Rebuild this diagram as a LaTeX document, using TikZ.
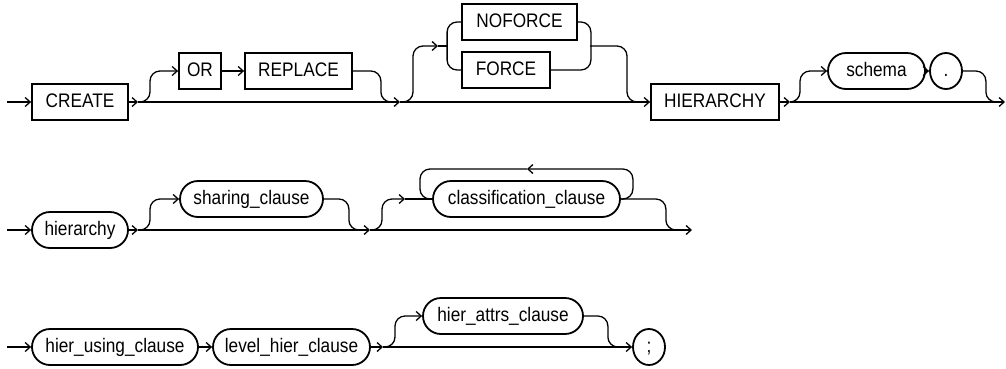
\documentclass[tikz,border=0pt]{standalone}
\usepackage{fontspec}
\setmainfont{Liberation Sans}[FakeStretch=0.88]
\usetikzlibrary{arrows.meta,shapes.misc,shapes.geometric}
\begin{document}
\begin{tikzpicture}[x=1pt,y=-1pt,
  rail/.style={line width=1.3pt},
  arr/.style={-{Straight Barb[length=5pt,width=9pt]}},
  rc/.style={rounded corners=10pt},
  lbl/.style={draw, line width=1.8pt, font=\fontsize{19.6}{22}\selectfont,
    text height=14pt, text depth=3pt, inner sep=0pt, minimum height=36pt},
  kw/.style={lbl, rectangle},
  nt/.style={lbl, rounded rectangle},
  tm/.style={lbl, ellipse, minimum width=32pt}]
\useasboundingbox[fill=white] (0,0) rectangle (1006,368);

% ---------------- row 1 ----------------
\node[kw, minimum width=96pt]  (create)  at (80,102)    {CREATE};
\node[kw, minimum width=42pt]  (or)      at (200,71)    {OR};
\node[kw, minimum width=107pt] (replace) at (298.5,71)  {REPLACE};
\node[kw, minimum width=115pt] (noforce) at (519.5,22)  {NOFORCE};
\node[kw, minimum width=88pt]  (force)   at (506,70)    {FORCE};
\node[kw, minimum width=128pt] (hier)    at (715,102)   {HIERARCHY};
\node[nt, minimum width=97pt]  (schema)  at (876.5,71)  {schema};
\node[tm]                      (dot)     at (946,71)    {.};

\coordinate (s1) at (7,102);
\coordinate (a1) at (138,102);
\coordinate (m1) at (390,102);
\coordinate (a2) at (400,102);
\coordinate (c2) at (438,46);
\coordinate (lb) at (448,46);
\coordinate (rb) at (590,46);
\coordinate (m3) at (637,102);
\coordinate (a3) at (790,102);
\coordinate (m4) at (995,102);
\coordinate (e1) at (1005,102);

\draw[rail,arr] (s1) -- (create.west);
\draw[rail,arr] (create.east) -- (a1);
\draw[rail,arr] (a1) -- (a2);
\draw[rail,arr] (a2) -- (hier.west);
\draw[rail,arr] (hier.east) -- (a3);
\draw[rail,arr] (a3) -- (e1);
% OR REPLACE
\draw[rail,arr,rc] (a1) -- ++(12,0) |- (or.west);
\draw[rail,arr] (or.east) -- (replace.west);
\draw[rail,rc] (replace.east) -- ++(28,0) |- (m1);
% NOFORCE / FORCE
\draw[rail,arr,rc] (a2) -- ++(13,0) |- (c2);
\draw[rail] (c2) -- (lb);
\draw[rail,rc] (noforce.west) -- ++(-14,0) |- (force.west);
\draw[rail,rc] (noforce.east) -- ++(13,0) |- (force.east);
\draw[rail,rc] (rb) -- ++(37,0) |- (m3);
% schema .
\draw[rail,arr,rc] (a3) -- ++(10,0) |- (schema.west);
\draw[rail,arr] (schema.east) -- (dot.west);
\draw[rail,rc] (dot.east) -- ++(23,0) |- (m4);

% ---------------- row 2 ----------------
\node[nt, minimum width=96pt]  (hierarchy) at (80,230)    {hierarchy};
\node[nt, minimum width=143pt] (sharing)   at (251.5,199) {sharing\_clause};
\node[nt, minimum width=187pt] (class)     at (526.5,199) {classification\_clause};

\coordinate (s2) at (7,230);
\coordinate (b1) at (138,230);
\coordinate (m5) at (358,230);
\coordinate (b2) at (370,230);
\coordinate (c1) at (405,199);
\coordinate (lt) at (527,169);
\coordinate (lj) at (420,199);
\coordinate (m6) at (675,230);
\coordinate (b3) at (692,230);

\draw[rail,arr] (s2) -- (hierarchy.west);
\draw[rail,arr] (hierarchy.east) -- (b1);
\draw[rail,arr] (b1) -- (b2);
\draw[rail,arr] (b2) -- (b3);
\draw[rail,arr,rc] (b1) -- ++(12,0) |- (sharing.west);
\draw[rail,rc] (sharing.east) -- ++(25,0) |- (m5);
\draw[rail,arr,rc] (b2) -- ++(12,0) |- (c1);
\draw[rail] (c1) -- (class.west);
\draw[rail,arr,rc] (class.east) -- ++(12,0) |- (lt);
\draw[rail,rc] (lt) -| (lj) -- (class.west);
\draw[rail,rc] (class.east) -- ++(45,0) |- (m6);

% ---------------- row 3 ----------------
\node[nt, minimum width=166pt] (using) at (115,347)   {hier\_using\_clause};
\node[nt, minimum width=157pt] (level) at (291.5,347) {level\_hier\_clause};
\node[nt, minimum width=160pt] (attrs) at (503,316)   {hier\_attrs\_clause};
\node[tm]                      (semi)  at (649,347)   {;};

\coordinate (s3) at (7,347);
\coordinate (d1) at (383,347);
\coordinate (m7) at (617,347);

\draw[rail,arr] (s3) -- (using.west);
\draw[rail,arr] (using.east) -- (level.west);
\draw[rail,arr] (level.east) -- (d1);
\draw[rail,arr] (d1) -- (semi.west);
\draw[rail,arr,rc] (d1) -- ++(12,0) |- (attrs.west);
\draw[rail,rc] (attrs.east) -- ++(24,0) |- (m7);
\end{tikzpicture}
\end{document}
